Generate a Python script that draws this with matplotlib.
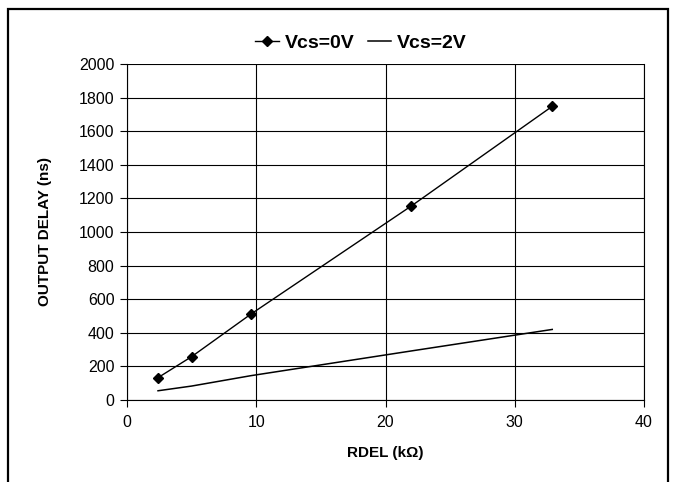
import matplotlib
matplotlib.use("Agg")
import matplotlib.pyplot as plt
from matplotlib.patches import Rectangle

plt.rcParams['font.family'] = ['Liberation Sans', 'DejaVu Sans']

# Data (RDEL in kOhm, output delay in ns)
rdel = [2.4, 5.0, 9.6, 22.0, 32.9]
delay_vcs0 = [133, 258, 512, 1155, 1748]
delay_vcs2 = [55, 83, 145, 292, 420]
x_ticks = [0, 10, 20, 30, 40]
y_ticks = [0, 200, 400, 600, 800, 1000, 1200, 1400, 1600, 1800, 2000]

W, H = 675, 482
fig = plt.figure(figsize=(W / 100, H / 100), dpi=100)

# outer frame
fig.patches.append(Rectangle((8 / W, -0.1), 660 / W, 1.1 - 9 / H, transform=fig.transFigure,
                             fill=False, edgecolor='black', linewidth=1.6))

ax = fig.add_axes([127 / W, 82 / H, 517 / W, 336 / H])
ax.plot(rdel, delay_vcs0, color='black', linewidth=1.0, marker='D', markersize=5.5,
        markerfacecolor='black', markeredgecolor='black', label='Vcs=0V')
ax.plot(rdel, delay_vcs2, color='black', linewidth=1.1, label='Vcs=2V')

ax.set_xlim(0, 40)
ax.set_ylim(0, 2000)
ax.set_xticks(x_ticks)
ax.set_yticks(y_ticks)
ax.grid(True, color='black', linewidth=0.8)
ax.set_axisbelow(True)
for s in ax.spines.values():
    s.set_color('black')
    s.set_linewidth(0.8)
ax.spines['top'].set_visible(False)
ax.tick_params(axis='both', direction='out', length=5, width=0.8, labelsize=11.5, pad=4)
ax.tick_params(axis='x', pad=6)

ax.set_xlabel('RDEL (kΩ)', fontsize=11, fontweight='bold', labelpad=11)
ax.set_ylabel('OUTPUT DELAY (ns)', fontsize=11, fontweight='bold', labelpad=19)

fig.legend(loc='center', bbox_to_anchor=(361 / W, 1 - 43 / H), ncol=2, frameon=False,
           prop={'weight': 'bold', 'size': 14}, handlelength=1.2, handletextpad=0.3,
           columnspacing=0.7, markerscale=1.0)

fig.savefig('out.png', dpi=100)
